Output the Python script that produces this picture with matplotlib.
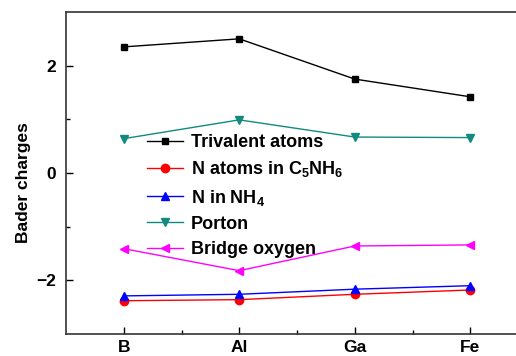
import matplotlib.pyplot as plt

plt.rcParams['font.family'] = ['Liberation Sans', 'DejaVu Sans']
plt.rcParams['font.weight'] = 'bold'
plt.rcParams['mathtext.fontset'] = 'custom'
plt.rcParams['mathtext.rm'] = 'Liberation Sans:bold'
plt.rcParams['mathtext.bf'] = 'Liberation Sans:bold'
plt.rcParams['mathtext.default'] = 'regular'

# data
metals = ['B', 'Al', 'Ga', 'Fe']
trivalent = [2.35, 2.50, 1.75, 1.42]
n_c5nh6 = [-2.38, -2.36, -2.26, -2.18]
n_nh4 = [-2.29, -2.26, -2.165, -2.10]
porton = [0.64, 0.99, 0.67, 0.66]
bridge_o = [-1.41, -1.82, -1.36, -1.34]

x = [1, 2, 3, 4]

fig = plt.figure(figsize=(5.16, 3.56), dpi=100)
ax = fig.add_axes([66 / 516, 1 - 334 / 356, 462 / 516, 322 / 356])

ax.plot(x, trivalent, color='black', marker='s', ms=5, lw=1, label='Trivalent atoms')
ax.plot(x, n_c5nh6, color='red', marker='o', ms=6, lw=1, label='N atoms in C$_5$NH$_6$')
ax.plot(x, n_nh4, color='blue', marker='^', ms=6, lw=1, label='N in NH$_4$')
ax.plot(x, porton, color='#128a80', marker='v', ms=6, lw=1, label='Porton')
ax.plot(x, bridge_o, color='#ff00ff', marker='<', ms=6, lw=1, label='Bridge oxygen')

ax.set_xlim(0.5, 4.5)
ax.set_ylim(-3, 3)
ax.set_xticks(x)
ax.set_xticklabels(metals)
ax.set_xticks([1.5, 2.5, 3.5], minor=True)
ax.set_yticks([-2, 0, 2])
ax.set_yticks([-1, 1], minor=True)
ax.tick_params(direction='in', labelsize=12.5, length=5, width=1)
ax.tick_params(axis='y', pad=7)
ax.tick_params(axis='x', pad=4)
ax.tick_params(which='minor', direction='in', length=3, width=1)
for s in ax.spines.values():
    s.set_linewidth(1.2)
    s.set_color('#333333')
ax.set_ylabel('Bader charges', fontsize=12.5, fontweight='bold')
ax.yaxis.set_label_coords(-0.076, 0.47)

ax.legend(loc='upper left', bbox_to_anchor=(0.175, 0.62), frameon=False,
          fontsize=13, handlelength=2.0, handletextpad=0.45, labelspacing=0.45,
          borderaxespad=0, borderpad=0)

fig.savefig('out.png', dpi=100)
